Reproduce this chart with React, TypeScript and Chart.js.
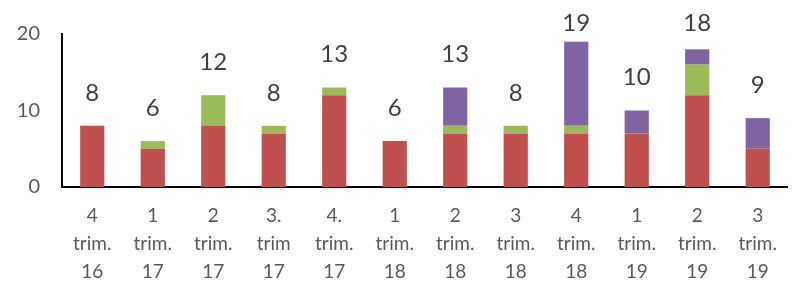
import React, { useEffect, useRef } from "react";
import { Chart, registerables } from "chart.js";

Chart.register(...registerables);

const categories: string[][] = [
  ["4", "trim.", "16"],
  ["1", "trim.", "17"],
  ["2", "trim.", "17"],
  ["3.", "trim", "17"],
  ["4.", "trim.", "17"],
  ["1", "trim.", "18"],
  ["2", "trim.", "18"],
  ["3", "trim.", "18"],
  ["4", "trim.", "18"],
  ["1", "trim.", "19"],
  ["2", "trim.", "19"],
  ["3", "trim.", "19"],
];
const redValues = [8, 5, 8, 7, 12, 6, 7, 7, 7, 7, 12, 5];
const greenValues = [0, 1, 4, 1, 1, 0, 1, 1, 1, 0, 4, 0];
const purpleValues = [0, 0, 0, 0, 0, 0, 5, 0, 11, 3, 2, 4];
const yTicks = [0, 10, 20];

const FONT = "Lato, 'Open Sans', sans-serif";

const totalsPlugin = {
  id: "totals",
  afterDatasetsDraw(chart: any) {
    const { ctx, scales } = chart;
    const x = scales.x;
    const y = scales.y;
    ctx.save();
    ctx.font = `24px ${FONT}`;
    ctx.fillStyle = "#404040";
    ctx.textAlign = "center";
    ctx.textBaseline = "middle";
    categories.forEach((_, i) => {
      const total = redValues[i] + greenValues[i] + purpleValues[i];
      const py = Math.max(23, y.getPixelForValue(total) - 33);
      ctx.fillText(String(total), x.getPixelForValue(i), py);
    });
    ctx.restore();
  },
};

export default function App() {
  const ref = useRef<HTMLCanvasElement | null>(null);
  useEffect(() => {
    document.body.style.margin = "0";
    const canvas = ref.current!;
    const chart = new Chart(canvas, {
      type: "bar",
      data: {
        labels: categories,
        datasets: [
          { label: "A", data: redValues, backgroundColor: "#C0504D" },
          { label: "B", data: greenValues, backgroundColor: "#9BBB59" },
          { label: "C", data: purpleValues, backgroundColor: "#8064A2" },
        ],
      },
      options: {
        responsive: false,
        animation: false,
        devicePixelRatio: 1,
        layout: { padding: { top: 31, right: 2, left: 0, bottom: 0 } },
        datasets: {
          bar: { barPercentage: 0.4, categoryPercentage: 1, borderWidth: 0 },
        },
        plugins: {
          legend: { display: false },
          tooltip: { enabled: false },
        },
        scales: {
          x: {
            stacked: true,
            grid: { display: false, drawTicks: false },
            border: { display: true, color: "#000000", width: 2 },
            ticks: {
              color: "#595959",
              font: { family: FONT, size: 19, lineHeight: 1.47 },
              padding: 15,
              maxRotation: 0,
              autoSkip: false,
            },
            afterFit: (s: any) => {
              s.height = 99;
            },
          },
          y: {
            stacked: true,
            min: 0,
            max: 20,
            grid: { display: false, drawTicks: false },
            border: { display: true, color: "#000000", width: 2 },
            afterBuildTicks: (s: any) => {
              s.ticks = yTicks.map((v) => ({ value: v }));
            },
            ticks: {
              color: "#595959",
              font: { family: FONT, size: 20 },
              padding: 22,
            },
            afterFit: (s: any) => {
              s.width = 62;
            },
          },
        },
      },
      plugins: [totalsPlugin],
    });
    return () => chart.destroy();
  }, []);
  return <canvas ref={ref} width={792} height={286} style={{ display: "block" }} />;
}
